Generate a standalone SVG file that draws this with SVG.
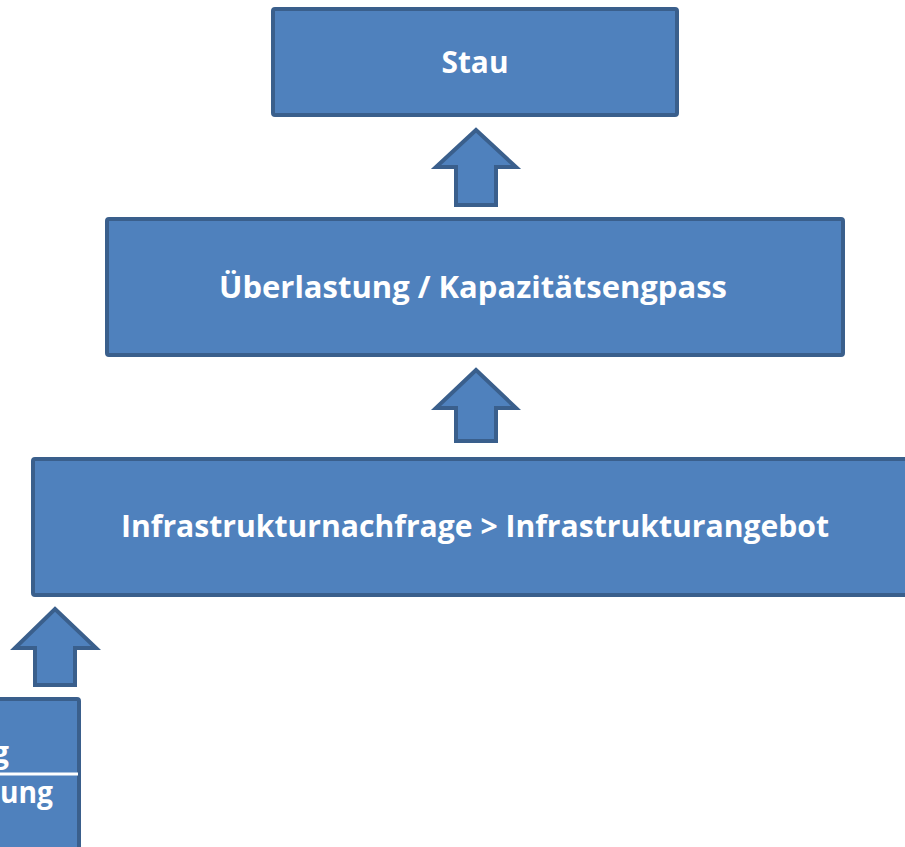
<svg xmlns="http://www.w3.org/2000/svg" width="905" height="847" viewBox="0 0 905 847">
  <style>
    .box { fill: #4F81BD; stroke: #3A5F8C; stroke-width: 4; }
    .arrow { fill: #4F81BD; stroke: #3A5F8C; stroke-width: 4; stroke-linejoin: miter; }
    .lbl { font-family: "Open Sans", "Liberation Sans", sans-serif; font-weight: 700; font-size: 30px; fill: #FFFFFF; }
  </style>
  <rect width="905" height="847" fill="#FFFFFF"/>
  <g id="node-stau">
    <rect class="box" x="273" y="9" width="404" height="106" rx="2"/>
    <text class="lbl" x="475" y="73" text-anchor="middle" textLength="67" lengthAdjust="spacingAndGlyphs">Stau</text>
  </g>
  <g id="node-ueberlastung">
    <rect class="box" x="107" y="219" width="736" height="136" rx="2"/>
    <text class="lbl" x="473" y="298" text-anchor="middle" textLength="508" lengthAdjust="spacingAndGlyphs">Überlastung / Kapazitätsengpass</text>
  </g>
  <g id="node-infrastruktur">
    <rect class="box" x="33" y="459" width="886" height="136" rx="2"/>
    <text class="lbl" x="475" y="537" text-anchor="middle" textLength="708" lengthAdjust="spacingAndGlyphs">Infrastrukturnachfrage &gt; Infrastrukturangebot</text>
  </g>
  <g id="node-cut">
    <rect class="box" x="-200" y="699" width="279" height="200" rx="2"/>
    <text class="lbl" x="9" y="763" text-anchor="end">g</text>
    <line x1="0" y1="774" x2="78" y2="774" stroke="#FFFFFF" stroke-width="3"/>
    <text class="lbl" x="53" y="803" text-anchor="end" textLength="53" lengthAdjust="spacingAndGlyphs">ung</text>
  </g>
  <g id="connectors">
    <polygon class="arrow" points="476,130 516,167 496,167 496,205 456,205 456,167 436,167"/>
    <polygon class="arrow" points="476,370 516,408 496,408 496,441 456,441 456,408 436,408"/>
    <polygon class="arrow" points="55,609 96,648 75,648 75,685 35,685 35,648 15,648"/>
  </g>
</svg>
